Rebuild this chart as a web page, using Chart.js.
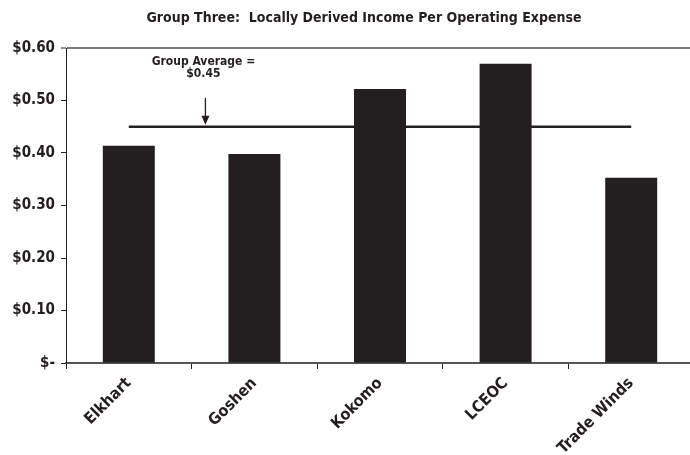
<!DOCTYPE html>
<html>
<head>
<meta charset="utf-8">
<script src="https://cdn.jsdelivr.net/npm/chart.js@4/dist/chart.umd.min.js"></script>
<style>
  html, body { margin: 0; padding: 0; background: #fff; overflow: hidden; }
  #wrap { width: 694px; height: 455px; }
</style>
</head>
<body>
<div id="wrap"><canvas id="c" width="694" height="455"></canvas></div>
<script>
const categories = ["Elkhart", "Goshen", "Kokomo", "LCEOC", "Trade Winds"];
const incomeValues = [0.414, 0.398, 0.522, 0.570, 0.353];
const groupAverage = [0.45, 0.45, 0.45, 0.45, 0.45];
const yTickValues = [0, 0.1, 0.2, 0.3, 0.4, 0.5, 0.6];
const yTickLabels = ["$-", "$0.10", "$0.20", "$0.30", "$0.40", "$0.50", "$0.60"];
const titleText = "Group Three:  Locally Derived Income Per Operating Expense";
const annotationLines = ["Group Average =", "$0.45"];

const FONT = "'Liberation Sans Narrow', 'Arial Narrow', 'DejaVu Sans Condensed', sans-serif";
const INK = "#231f20";

const annotationPlugin = {
  id: "avgNote",
  afterDatasetsDraw(chart) {
    const ctx = chart.ctx;
    const x = chart.scales.x, y = chart.scales.y;
    const px = x.getPixelForValue(0.61);
    const avg = groupAverage[0];
    ctx.save();
    ctx.fillStyle = INK;
    ctx.strokeStyle = INK;
    // title
    ctx.font = "bold 14px " + FONT;
    ctx.textAlign = "center";
    ctx.textBaseline = "middle";
    ctx.fillText(titleText, chart.width / 2 + 17, 18);
    // annotation
    ctx.font = "bold 12px " + FONT;
    ctx.fillText(annotationLines[0], px - 2, y.getPixelForValue(0.573));
    ctx.fillText(annotationLines[1], px - 2, y.getPixelForValue(0.550));
    const yTop = y.getPixelForValue(0.505);
    const yTip = y.getPixelForValue(avg) - 2;
    ctx.lineWidth = 1.3;
    ctx.beginPath();
    ctx.moveTo(px, yTop);
    ctx.lineTo(px, yTip - 6);
    ctx.stroke();
    ctx.beginPath();
    ctx.moveTo(px - 4, yTip - 9);
    ctx.lineTo(px + 4, yTip - 9);
    ctx.lineTo(px, yTip);
    ctx.closePath();
    ctx.fill();
    ctx.restore();
  }
};

new Chart(document.getElementById("c"), {
  data: {
    labels: categories,
    datasets: [
      {
        type: "line",
        label: "Group Average",
        data: groupAverage,
        borderColor: INK,
        borderWidth: 2.5,
        pointRadius: 0,
        fill: false,
        order: 0
      },
      {
        type: "bar",
        label: "Locally Derived Income Per Operating Expense",
        data: incomeValues,
        backgroundColor: INK,
        borderWidth: 0,
        barPercentage: 0.414,
        categoryPercentage: 1.0,
        order: 1
      }
    ]
  },
  options: {
    responsive: false,
    animation: false,
    devicePixelRatio: 1,
    layout: { padding: { top: 48, left: 0, right: 0, bottom: 0 } },
    plugins: {
      legend: { display: false },
      tooltip: { enabled: false },
      title: { display: false }
    },
    scales: {
      x: {
        offset: true,
        afterFit(scale) { scale.height = 92; },
        grid: {
          offset: true,
          display: true,
          color: "rgba(0,0,0,0)",
          tickColor: INK,
          tickLength: 6,
          drawOnChartArea: false
        },
        border: { display: true, color: "#555", width: 2 },
        ticks: {
          color: INK,
          font: { family: FONT, size: 16, weight: "bold" },
          maxRotation: 45,
          minRotation: 45,
          padding: 5,
          autoSkip: false
        }
      },
      y: {
        min: 0,
        max: 0.6,
        afterFit(scale) { scale.width = 66; },
        afterBuildTicks(scale) {
          scale.ticks = yTickValues.map(v => ({ value: v }));
        },
        grid: {
          color: (c) => (c.tick && Math.abs(c.tick.value - 0.6) < 1e-9) ? "#7a7a7a" : "rgba(0,0,0,0)",
          lineWidth: (c) => (c.tick && Math.abs(c.tick.value - 0.6) < 1e-9) ? 2 : 1,
          tickColor: INK,
          tickLength: 5,
          tickWidth: 1
        },
        border: { display: true, color: INK, width: 1 },
        ticks: {
          color: INK,
          font: { family: FONT, size: 15, weight: "bold" },
          padding: 6,
          callback: (value) => {
            const i = yTickValues.findIndex(v => Math.abs(v - value) < 1e-9);
            return i >= 0 ? yTickLabels[i] : "";
          }
        }
      }
    }
  },
  plugins: [annotationPlugin]
});
</script>
</body>
</html>
